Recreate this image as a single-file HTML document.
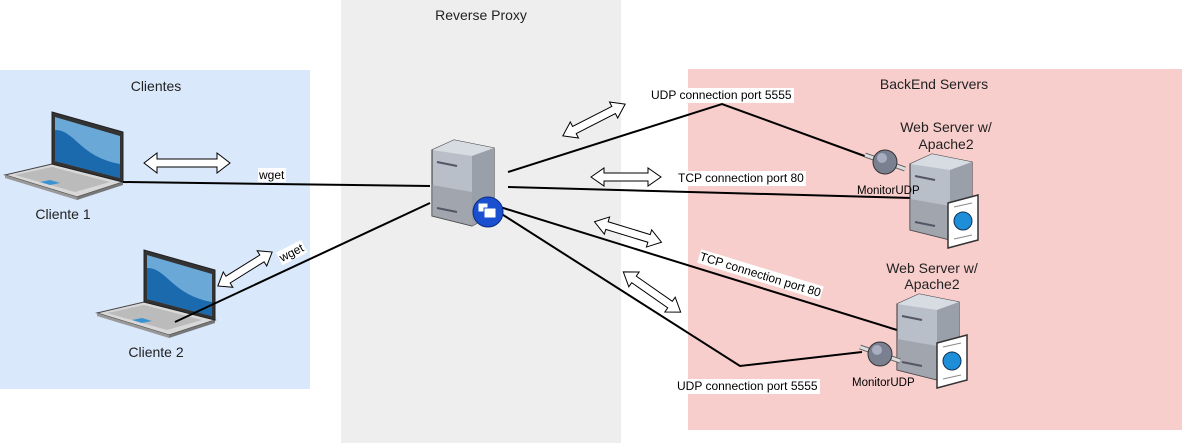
<!DOCTYPE html>
<html><head><meta charset="utf-8"><style>
html,body{margin:0;padding:0;background:#fff;}
svg{display:block;font-family:"Liberation Sans",sans-serif;}
</style></head><body>
<svg width="1182" height="443" viewBox="0 0 1182 443" xmlns="http://www.w3.org/2000/svg">
<defs>
<g id="dbl"><polygon points="-32,0 -20,-9 -20,-4 20,-4 20,-9 32,0 20,9 20,4 -20,4 -20,9" fill="#fff" stroke="#000" stroke-width="1"/></g>
<g id="dblL"><polygon points="-43,0 -30,-10 -30,-4 30,-4 30,-10 43,0 30,10 30,4 -30,4 -30,10" fill="#fff" stroke="#000" stroke-width="1"/></g>
<g id="dblM"><polygon points="-35,0 -22,-9 -22,-4 22,-4 22,-9 35,0 22,9 22,4 -22,4 -22,9" fill="#fff" stroke="#000" stroke-width="1"/></g>
<g id="laptop">
 <polygon points="0,63 47,52 118,70 72,85" fill="#d8d8d8" stroke="#444" stroke-width="1"/>
 <polygon points="0,63 72,85 72,88 0,66" fill="#999"/>
 <polygon points="72,85 118,70 118,73 72,88" fill="#777"/>
 <polygon points="10,63 47,55 105,70 70,80" fill="#bbb"/>
 <polygon points="35,70 45,68 55,71 45,73" fill="#3a93d0"/>
 <polygon points="47,0 118,20 118,70 47,52" fill="#333" stroke="#222"/>
 <polygon points="50,5 115,24 115,66 50,49" fill="#6aa8d8"/>
 <path d="M50,18 C70,18 75,45 115,52 L115,66 L50,49 Z" fill="#1b6aad"/>
</g>
<g id="server">
 <polygon points="0,10 22,0 62,8 62,74 40,86 0,76" fill="#b9bfc9" stroke="#333" stroke-width="1"/>
 <polygon points="0,10 22,0 62,8 40,16" fill="#d7dbe2"/>
 <polygon points="40,16 62,8 62,74 40,86" fill="#9aa0aa"/>
 <polygon points="0,45 40,52 40,86 0,76" fill="#8f949c" opacity="0.6"/>
 <line x1="5" y1="22" x2="25" y2="26" stroke="#556" stroke-width="2"/>
 <line x1="5" y1="68" x2="25" y2="72" stroke="#556" stroke-width="2"/>
</g>
<g id="doc">
 <polygon points="0,8 30,0 30,45 0,53" fill="#fff" stroke="#333" stroke-width="1.5"/>
 <circle cx="15" cy="26" r="9" fill="#1e8ed8" stroke="#135" stroke-width="1"/>
 <line x1="6" y1="12" x2="24" y2="8" stroke="#888"/>
 <line x1="6" y1="44" x2="24" y2="40" stroke="#888"/>
</g>
<g id="knob">
 <line x1="-20" y1="-7" x2="20" y2="7" stroke="#666" stroke-width="5"/>
 <line x1="-20" y1="-7" x2="20" y2="7" stroke="#ddd" stroke-width="3"/>
 <circle cx="0" cy="0" r="12" fill="#7a8090" stroke="#333"/>
 <circle cx="-3" cy="-4" r="5" fill="#a8aec0"/>
</g>
</defs>
<rect x="0" y="70" width="310" height="319" fill="#dae8fc"/>
<rect x="341" y="0" width="280" height="443" fill="#eeeeee"/>
<rect x="688" y="69" width="494" height="361" fill="#f8cecc"/>
<g font-size="14" fill="#222" text-anchor="middle">
<text x="156" y="91">Clientes</text>
<text x="481" y="20">Reverse Proxy</text>
<text x="934" y="89">BackEnd Servers</text>
<text x="63" y="219">Cliente 1</text>
<text x="156" y="357">Cliente 2</text>
<text x="946" y="132">Web Server w/</text>
<text x="946" y="149">Apache2</text>
<text x="932" y="273">Web Server w/</text>
<text x="932" y="289">Apache2</text>
</g>
<use href="#laptop" x="5" y="112"/>
<use href="#laptop" x="97" y="250"/>
<g stroke="#000" stroke-width="2" fill="none">
<line x1="123" y1="182" x2="430" y2="186"/>
<line x1="175" y1="322" x2="430" y2="203"/>
<polyline points="508,172 722,104 870,158"/>
<line x1="508" y1="187" x2="912" y2="198"/>
<line x1="500" y1="207" x2="897" y2="330"/>
<polyline points="500,213 740,366 862,352"/>
</g>
<use href="#server" x="432" y="140"/>
<circle cx="488" cy="212" r="15" fill="#1a4fd0" stroke="#0a2a80"/>
<rect x="478" y="203" width="10" height="9" fill="#fff" stroke="#1a4fd0"/>
<rect x="484" y="208" width="12" height="10" fill="#fff" stroke="#1a4fd0"/>
<use href="#server" x="910" y="154"/>
<use href="#doc" x="948" y="195"/>
<use href="#server" x="897" y="294"/>
<use href="#doc" x="937" y="335"/>
<use href="#knob" x="885" y="162"/>
<use href="#knob" x="880" y="354"/>
<use href="#dblL" transform="translate(187,163)"/>
<use href="#dbl" transform="translate(245,269) rotate(-32)"/>
<use href="#dblM" transform="translate(594,120) rotate(-27)"/>
<use href="#dblM" transform="translate(626,177)"/>
<use href="#dblM" transform="translate(628,232) rotate(17)"/>
<use href="#dblM" transform="translate(652,292) rotate(35)"/>
<g font-size="12" fill="#000">
<rect x="258" y="168" width="28" height="14" fill="#fff"/>
<text x="259" y="179">wget</text>
<g transform="translate(282,262) rotate(-27)"><rect x="-1" y="-11" width="28" height="14" fill="#fff"/><text x="0" y="0">wget</text></g>
<rect x="648" y="88" width="146" height="15" fill="#fff"/>
<text x="651" y="99">UDP connection port 5555</text>
<rect x="676" y="171" width="130" height="15" fill="#fff"/>
<text x="678" y="182">TCP connection port 80</text>
<g transform="translate(699,260) rotate(17)"><rect x="-1" y="-11" width="128" height="14" fill="#fff"/><text x="0" y="0">TCP connection port 80</text></g>
<rect x="674" y="379" width="146" height="15" fill="#fff"/>
<text x="677" y="390">UDP connection port 5555</text>
<text x="857" y="194" font-size="11.5">MonitorUDP</text>
<text x="852" y="386" font-size="11.5">MonitorUDP</text>
</g>
</svg>
</body></html>
